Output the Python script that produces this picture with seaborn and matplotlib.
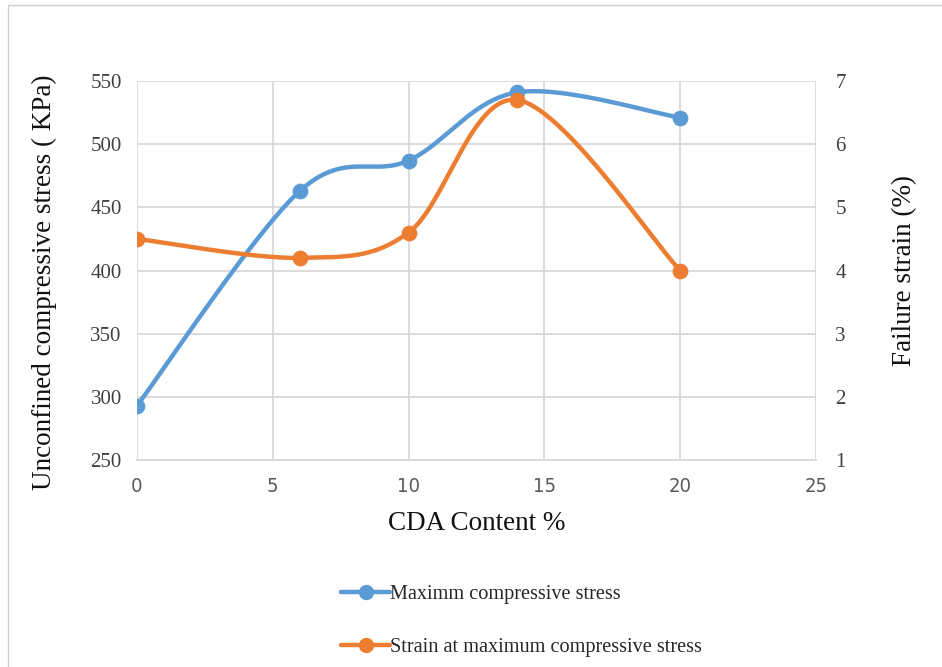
import numpy as np
import pandas as pd
import matplotlib
matplotlib.use("Agg")
import matplotlib.pyplot as plt
import seaborn as sns
from matplotlib.lines import Line2D
from matplotlib.patches import Rectangle

# ---- data ----
cda_content = [0, 6, 10, 14, 20]
max_stress = [293, 463, 487, 541, 521]
failure_strain = [4.5, 4.2, 4.6, 6.7, 4.0]
x_ticks = [0, 5, 10, 15, 20, 25]
left_ticks = [250, 300, 350, 400, 450, 500, 550]
right_ticks = [1, 2, 3, 4, 5, 6, 7]
series_names = ["Maximm compressive stress", "Strain at maximum compressive stress"]

BLUE = "#5B9BD5"
ORANGE = "#ED7D31"
GRID = "#D9D9D9"

sns.set_theme(style="white")
plt.rcParams["font.family"] = ["Liberation Serif", "DejaVu Serif"]


def smooth(xs, ys, xr, yr, n=60):
    """Excel-like Bezier smoothing (Catmull-Rom, tension 1/6) in normalized space."""
    px = (np.asarray(xs, float) - xr[0]) / (xr[1] - xr[0])
    py = (np.asarray(ys, float) - yr[0]) / (yr[1] - yr[0]) * (379 / 679)
    P = np.column_stack([px, py])
    out = []
    for i in range(len(P) - 1):
        p0 = P[i - 1] if i > 0 else P[i]
        p1 = P[i]
        p2 = P[i + 1]
        p3 = P[i + 2] if i + 2 < len(P) else P[i + 1]
        c1 = p1 + (p2 - p0) / 6
        c2 = p2 - (p3 - p1) / 6
        t = np.linspace(0, 1, n)[:, None]
        seg = ((1 - t) ** 3) * p1 + 3 * ((1 - t) ** 2) * t * c1 + 3 * (1 - t) * t ** 2 * c2 + t ** 3 * p2
        out.append(seg if i == 0 else seg[1:])
    S = np.vstack(out)
    sx = S[:, 0] * (xr[1] - xr[0]) + xr[0]
    sy = S[:, 1] / (379 / 679) * (yr[1] - yr[0]) + yr[0]
    return sx, sy


fig = plt.figure(figsize=(9.42, 6.67), dpi=100)
ax = fig.add_axes([0.1454, 0.3103, 0.7208, 0.5683])
ax2 = ax.twinx()

xr = (0, 25)
yl = (250, 550)
yr2 = (1, 7)

bx, by = smooth(cda_content, max_stress, xr, yl)
ox, oy = smooth(cda_content, failure_strain, xr, yr2)

df_b = pd.DataFrame({"x": bx, "y": by})
df_o = pd.DataFrame({"x": ox, "y": oy})
pts_b = pd.DataFrame({"x": cda_content, "y": max_stress})
pts_o = pd.DataFrame({"x": cda_content, "y": failure_strain})

sns.lineplot(data=df_b, x="x", y="y", ax=ax, color=BLUE, lw=3.2, sort=False, zorder=3)
sns.scatterplot(data=pts_b, x="x", y="y", ax=ax, color=BLUE, s=110, edgecolor=BLUE, zorder=4)
sns.lineplot(data=df_o, x="x", y="y", ax=ax2, color=ORANGE, lw=3.2, sort=False, zorder=3)
sns.scatterplot(data=pts_o, x="x", y="y", ax=ax2, color=ORANGE, s=110, edgecolor=ORANGE, zorder=4)

ax.set_xlim(*xr)
ax.set_ylim(*yl)
ax2.set_ylim(*yr2)
ax.set_xticks(x_ticks)
ax.set_yticks(left_ticks)
ax2.set_yticks(right_ticks)

ax.grid(True, color=GRID, lw=1.3)
ax.set_axisbelow(True)
for a in (ax, ax2):
    for s in ("top", "right", "left"):
        a.spines[s].set_visible(False)
    a.spines["bottom"].set_color(GRID)
    a.spines["bottom"].set_linewidth(1.3)
    a.tick_params(length=0)

ax.set_xticklabels([str(t) for t in x_ticks], family=["DejaVu Sans"], fontstretch="condensed",
                   fontsize=14.5, color="#595959")
ax.set_yticklabels([str(t) for t in left_ticks], fontsize=15, color="#404040")
ax2.set_yticklabels([str(t) for t in right_ticks], fontsize=15, color="#404040")
ax.tick_params(axis="x", pad=12)
ax.tick_params(axis="y", pad=11)
ax2.tick_params(axis="y", pad=14)

ax.set_xlabel("CDA Content %", fontsize=19.5, color="#111111")
ax.set_ylabel("Unconfined compressive stress ( KPa)", fontsize=19.5, color="#111111")
ax2.set_ylabel("Failure strain (%)", fontsize=19.5, color="#111111")
ax.xaxis.set_label_coords(0.5, -0.1346)
ax.yaxis.set_label_coords(-0.118, 0.47)
ax2.yaxis.set_label_coords(1.112, 0.5)

handles = [
    Line2D([], [], color=BLUE, lw=3.2, marker="o", ms=10),
    Line2D([], [], color=ORANGE, lw=3.2, marker="o", ms=10),
]
fig.legend(handles, series_names, loc="center left", bbox_to_anchor=(0.343, 0.069),
           frameon=False, fontsize=14.6, handlelength=2.4, handletextpad=0.0,
           labelspacing=1.65)

fig.patches.append(Rectangle((0.009, -0.5), 2, 1.5 - 5 / 667, transform=fig.transFigure,
                             fill=False, edgecolor="#D0D0D0", lw=1.0, zorder=0))

fig.savefig("out.png", dpi=100)
